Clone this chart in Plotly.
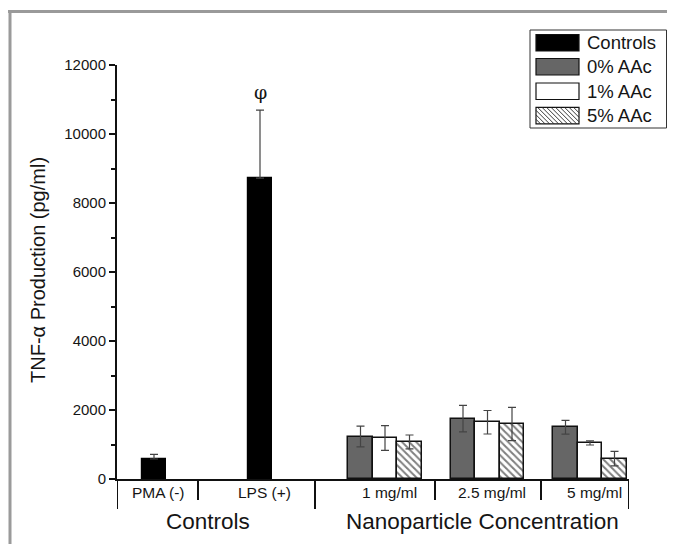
import plotly.graph_objects as go

# ---------------- data ----------------
control_labels = ["PMA (-)", "LPS (+)"]
control_values = [580, 8720]
control_errors = [135, 1970]

conc_labels = ["1 mg/ml", "2.5 mg/ml", "5 mg/ml"]
series_names = ["0% AAc", "1% AAc", "5% AAc"]
aac0_values = [1230, 1750, 1500]
aac0_errors = [300, 385, 200]
aac1_values = [1190, 1645, 1045]
aac1_errors = [360, 340, 60]
aac5_values = [1075, 1595, 590]
aac5_errors = [200, 480, 210]

group_labels = ["Controls", "Nanoparticle Concentration"]
legend_labels = ["Controls"] + series_names
y_ticks = [0, 2000, 4000, 6000, 8000, 10000, 12000]
y_title = "TNF-\u03b1 Production (pg/ml)"
sig_mark = "\u03c6"

# ---------------- layout positions (axis units) ----------------
control_pos = [37, 143]
group_centers = [268, 370.5, 473]
bar_w = 24.5
seg_bounds = [0, 81, 198, 318, 424, 512]
long_bounds = [0, 198, 512]
short_bounds = [81, 318, 424]

FONT = "Liberation Sans, Arial, sans-serif"
TXT = "#151515"
err_style = dict(type="data", visible=True, color="#444", thickness=1.2, width=4)

# plot area in page pixels (page has an 8px body margin)
PL, PR, PT, PB = 117, 629, 65, 479
PW, PH = PR - PL, PB - PT


def px(x):
    return (x - PL) / PW


def py(y):
    return (PB - y) / PH


fig = go.Figure()

fig.add_trace(go.Bar(
    x=control_pos, y=control_values, width=bar_w, name="Controls",
    marker=dict(color="black", line=dict(color="black", width=1.2)),
    error_y=dict(array=control_errors, arrayminus=[0] * len(control_errors), symmetric=False, **err_style),
))

fills = [
    dict(color="#666666", line=dict(color="#111", width=1.5)),
    dict(color="white", line=dict(color="#111", width=1.5)),
    dict(color="white", line=dict(color="#111", width=1.5),
         pattern=dict(shape="\\", fgcolor="#000", bgcolor="white", size=5, solidity=0.4)),
]
series = [(aac0_values, aac0_errors), (aac1_values, aac1_errors), (aac5_values, aac5_errors)]
for k, ((vals, errs), mk) in enumerate(zip(series, fills)):
    xs = [c + (k - 1) * bar_w for c in group_centers]
    fig.add_trace(go.Bar(
        x=xs, y=vals, width=bar_w, name=series_names[k], marker=mk,
        error_y=dict(array=errs, **err_style),
    ))

shapes = []
# dividers below the x axis
for b in long_bounds:
    shapes.append(dict(type="line", xref="x", yref="paper", x0=b, x1=b, y0=0, y1=py(509),
                       line=dict(color="#111", width=2)))
for b in short_bounds:
    shapes.append(dict(type="line", xref="x", yref="paper", x0=b, x1=b, y0=0, y1=py(500),
                       line=dict(color="#111", width=2)))
# gray frame (top and left)
shapes.append(dict(type="line", xref="paper", yref="paper", x0=px(8), x1=px(700), y0=py(11.5), y1=py(11.5),
                   line=dict(color="#9a9a9a", width=3)))
shapes.append(dict(type="line", xref="paper", yref="paper", x0=px(10), x1=px(10), y0=py(10), y1=py(560),
                   line=dict(color="#9a9a9a", width=3)))

# ---- manual legend ----
LX0, LX1, LY0, LY1 = 530, 666.5, 30, 128
shapes.append(dict(type="rect", xref="paper", yref="paper", x0=px(LX0), x1=px(LX1), y0=py(LY1), y1=py(LY0),
                   line=dict(color="#333", width=1), fillcolor="white", layer="above"))
SX0, SX1 = 536, 579
row_tops = [34.5, 58.5, 83, 107.3]
sw_h = 16.5
sw_fill = ["black", "#666666", "white", "white"]
annotations = []
for i, (top, fc, lab) in enumerate(zip(row_tops, sw_fill, legend_labels)):
    shapes.append(dict(type="rect", xref="paper", yref="paper", x0=px(SX0), x1=px(SX1),
                       y0=py(top + sw_h), y1=py(top), fillcolor=fc,
                       line=dict(color="#111", width=1.2), layer="above"))
    annotations.append(dict(x=px(585), y=py(top + sw_h / 2), xref="paper", yref="paper", text=lab,
                            showarrow=False, xanchor="left", yanchor="middle",
                            font=dict(size=18.5, color=TXT, family=FONT)))
# hatching for the last swatch ("\" direction)
top = row_tops[3]
bot = top + sw_h
segs = []
step = 4.5
c = SX0 - sw_h
while c < SX1:
    xa, ya = c, top
    xb, yb = c + sw_h, bot
    if xa < SX0:
        ya = top + (SX0 - xa)
        xa = SX0
    if xb > SX1:
        yb = bot - (xb - SX1)
        xb = SX1
    if xb > xa:
        segs.append(f"M{px(xa)},{py(ya)} L{px(xb)},{py(yb)}")
    c += step
shapes.append(dict(type="path", xref="paper", yref="paper", path=" ".join(segs),
                   line=dict(color="#222", width=0.9), layer="above"))

# category labels
cat_x = control_pos + group_centers
cat_t = control_labels + conc_labels
for x, t in zip(cat_x, cat_t):
    annotations.append(dict(x=x + 4, y=py(493), xref="x", yref="paper", text=t, showarrow=False,
                            xanchor="center", font=dict(size=15.5, color=TXT, family=FONT), yanchor="middle"))
# group labels
grp_x = [(seg_bounds[0] + seg_bounds[2]) / 2 - 8, (seg_bounds[2] + seg_bounds[5]) / 2 + 10]
for x, t in zip(grp_x, group_labels):
    annotations.append(dict(x=x, y=py(521), xref="x", yref="paper", text=t, showarrow=False,
                            xanchor="center", font=dict(size=22.5, color=TXT, family=FONT), yanchor="middle"))
# y title
annotations.append(dict(x=px(38), y=py(270), xref="paper", yref="paper", text=y_title, showarrow=False,
                        xanchor="center", yanchor="middle",
                        textangle=-90, font=dict(size=20, color=TXT, family=FONT)))
# significance mark
annotations.append(dict(x=control_pos[1], y=control_values[1] + control_errors[1], xref="x", yref="y",
                        text=sig_mark, showarrow=False, xanchor="center", yanchor="bottom", yshift=5,
                        font=dict(size=19, color=TXT, family="DejaVu Serif, serif")))

# figure is placed 8px from the page's top-left corner by the default body margin
OFF = 8
fig.update_layout(
    width=675 - OFF, height=544 - OFF, autosize=False,
    margin=dict(l=PL - OFF, r=675 - PR, t=PT - OFF, b=544 - PB, pad=0),
    paper_bgcolor="white", plot_bgcolor="white",
    barmode="overlay", bargap=0,
    showlegend=False,
    shapes=shapes, annotations=annotations,
    font=dict(family=FONT, color=TXT),
)
fig.update_xaxes(range=[seg_bounds[0], seg_bounds[-1]], showline=True, linecolor="#111", linewidth=2,
                 showticklabels=False, ticks="", showgrid=False, zeroline=False, fixedrange=True)
fig.update_yaxes(range=[0, 12000], tickvals=y_ticks, ticktext=[str(v) for v in y_ticks],
                 showline=True, linecolor="#111", linewidth=2,
                 ticks="outside", ticklen=6, tickwidth=1.5, tickcolor="#111",
                 minor=dict(dtick=1000, ticks="outside", ticklen=4, tickwidth=1.5, tickcolor="#111"),
                 tickfont=dict(size=15, color=TXT, family=FONT),
                 showgrid=False, zeroline=False)

fig.write_html("out.html")
